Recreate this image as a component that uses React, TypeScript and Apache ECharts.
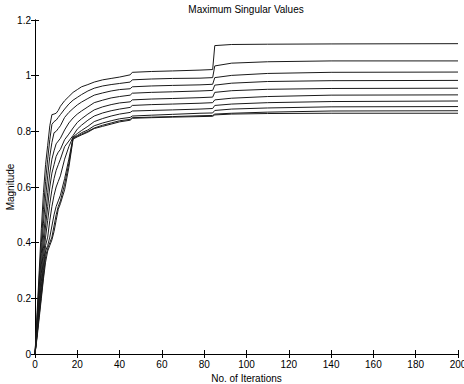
import React, { useEffect, useRef } from "react";
import * as echarts from "echarts";

const iterations = [0, 1, 2, 3, 4, 5, 6, 7, 8, 9, 10, 11, 12, 14, 16, 18, 20, 22, 25, 28, 32, 36, 40, 45, 46, 55, 65, 78, 84, 85, 93, 110, 140, 200];

const sv1 = [0, 0.15, 0.3, 0.45, 0.58, 0.68, 0.75, 0.82, 0.86, 0.862, 0.865, 0.875, 0.89, 0.91, 0.925, 0.94, 0.95, 0.96, 0.968, 0.977, 0.985, 0.99, 0.995, 1.003, 1.012, 1.015, 1.017, 1.02, 1.022, 1.108, 1.112, 1.113, 1.114, 1.115];
const sv2 = [0, 0.13, 0.27, 0.4, 0.52, 0.62, 0.7, 0.77, 0.825, 0.835, 0.84, 0.85, 0.86, 0.88, 0.898, 0.912, 0.922, 0.932, 0.945, 0.955, 0.963, 0.968, 0.972, 0.977, 0.985, 0.988, 0.99, 0.991, 0.993, 1.035, 1.045, 1.05, 1.053, 1.053];
const sv3 = [0, 0.12, 0.24, 0.36, 0.47, 0.56, 0.64, 0.71, 0.76, 0.795, 0.8, 0.81, 0.82, 0.85, 0.868, 0.882, 0.895, 0.905, 0.918, 0.93, 0.938, 0.945, 0.95, 0.953, 0.96, 0.963, 0.965, 0.967, 0.969, 0.993, 1.001, 1.008, 1.012, 1.013];
const sv4 = [0, 0.1, 0.21, 0.32, 0.42, 0.5, 0.58, 0.65, 0.7, 0.73, 0.755, 0.765, 0.775, 0.805, 0.83, 0.848, 0.862, 0.873, 0.888, 0.903, 0.912, 0.92, 0.925, 0.93, 0.937, 0.94, 0.942, 0.945, 0.947, 0.966, 0.973, 0.979, 0.982, 0.983];
const sv5 = [0, 0.09, 0.19, 0.29, 0.38, 0.46, 0.53, 0.6, 0.65, 0.68, 0.71, 0.725, 0.735, 0.77, 0.79, 0.812, 0.832, 0.845, 0.862, 0.877, 0.888, 0.896, 0.902, 0.906, 0.913, 0.916, 0.918, 0.921, 0.923, 0.94, 0.946, 0.951, 0.954, 0.955];
const sv6 = [0, 0.08, 0.17, 0.26, 0.35, 0.42, 0.48, 0.54, 0.59, 0.63, 0.66, 0.68, 0.7, 0.745, 0.765, 0.785, 0.808, 0.822, 0.84, 0.855, 0.866, 0.874, 0.88, 0.886, 0.893, 0.896, 0.898, 0.901, 0.903, 0.913, 0.919, 0.925, 0.93, 0.931];
const sv7 = [0, 0.08, 0.16, 0.24, 0.32, 0.39, 0.42, 0.48, 0.53, 0.57, 0.6, 0.62, 0.64, 0.7, 0.745, 0.78, 0.792, 0.803, 0.818, 0.835, 0.846, 0.855, 0.862, 0.868, 0.873, 0.875, 0.877, 0.88, 0.882, 0.893, 0.898, 0.903, 0.907, 0.909];
const sv8 = [0, 0.07, 0.15, 0.22, 0.3, 0.37, 0.39, 0.42, 0.46, 0.5, 0.53, 0.55, 0.57, 0.63, 0.7, 0.778, 0.785, 0.795, 0.805, 0.82, 0.83, 0.838, 0.845, 0.85, 0.855, 0.858, 0.861, 0.865, 0.866, 0.875, 0.88, 0.884, 0.888, 0.889];
const sv9 = [0, 0.07, 0.14, 0.21, 0.28, 0.35, 0.38, 0.4, 0.42, 0.46, 0.5, 0.53, 0.55, 0.61, 0.685, 0.775, 0.782, 0.79, 0.8, 0.812, 0.822, 0.83, 0.838, 0.843, 0.849, 0.851, 0.853, 0.856, 0.857, 0.862, 0.865, 0.869, 0.873, 0.874];
const sv10 = [0, 0.06, 0.13, 0.2, 0.27, 0.33, 0.37, 0.39, 0.41, 0.44, 0.48, 0.52, 0.54, 0.59, 0.67, 0.772, 0.78, 0.787, 0.797, 0.81, 0.818, 0.826, 0.834, 0.84, 0.847, 0.849, 0.851, 0.853, 0.854, 0.859, 0.862, 0.864, 0.865, 0.865];

const allSeries = [sv1, sv2, sv3, sv4, sv5, sv6, sv7, sv8, sv9, sv10];

const FONT = "'Liberation Sans', Arial, sans-serif";

export default function App() {
  const ref = useRef<HTMLDivElement>(null);
  useEffect(() => {
    if (!ref.current) return;
    const chart = echarts.init(ref.current, undefined, { renderer: "svg" });
    const axisLine = { show: true, lineStyle: { color: "#000", width: 1 } };
    const tick = { show: true, inside: true, length: 4, lineStyle: { color: "#000" } };
    chart.setOption({
      animation: false,
      backgroundColor: "#fff",
      title: {
        text: "Maximum Singular Values",
        left: 246,
        top: 4,
        padding: 0,
        textAlign: "center",
        textStyle: { fontFamily: FONT, fontSize: 10, fontWeight: "normal", color: "#000" },
      },
      graphic: [
        {
          type: "text",
          x: 10,
          y: 187,
          rotation: Math.PI / 2,
          style: {
            text: "Magnitude",
            fontFamily: FONT,
            fontSize: 10,
            fill: "#000",
            textAlign: "center",
            textVerticalAlign: "middle",
          },
        },
      ],
      grid: { left: 35, right: 6, top: 20, bottom: 30, containLabel: false, outerBoundsMode: "none" },
      xAxis: [
        {
          type: "value",
          min: 0,
          max: 200,
          interval: 20,
          position: "bottom",
          name: "No. of Iterations",
          nameLocation: "middle",
          nameGap: 18,
          nameTextStyle: { fontFamily: FONT, fontSize: 10, color: "#000" },
          axisLine,
          axisTick: tick,
          axisLabel: { fontFamily: FONT, fontSize: 10, color: "#000", margin: 5 },
          splitLine: { show: false },
        },
        {
          type: "value",
          min: 0,
          max: 200,
          interval: 20,
          position: "top",
          axisLine,
          axisTick: tick,
          axisLabel: { show: false },
          splitLine: { show: false },
        },
      ],
      yAxis: [
        {
          type: "value",
          min: 0,
          max: 1.2,
          interval: 0.2,
          position: "left",
          axisLine,
          axisTick: tick,
          axisLabel: {
            fontFamily: FONT,
            fontSize: 10,
            color: "#000",
            margin: 4,
            formatter: (v: number) => String(parseFloat(v.toFixed(1))),
          },
          splitLine: { show: false },
        },
        {
          type: "value",
          min: 0,
          max: 1.2,
          interval: 0.2,
          position: "right",
          axisLine,
          axisTick: tick,
          axisLabel: { show: false },
          splitLine: { show: false },
        },
      ],
      series: allSeries.map((vals, k) => ({
        name: "sv" + (k + 1),
        type: "line",
        xAxisIndex: 0,
        yAxisIndex: 0,
        showSymbol: false,
        symbol: "none",
        lineStyle: { color: "#1a1a1a", width: 1 },
        data: iterations.map((it, i) => [it, vals[i]]),
      })),
    });
    return () => chart.dispose();
  }, []);
  return <div ref={ref} style={{ width: 464, height: 384, position: "absolute", left: 0, top: 0 }} />;
}
